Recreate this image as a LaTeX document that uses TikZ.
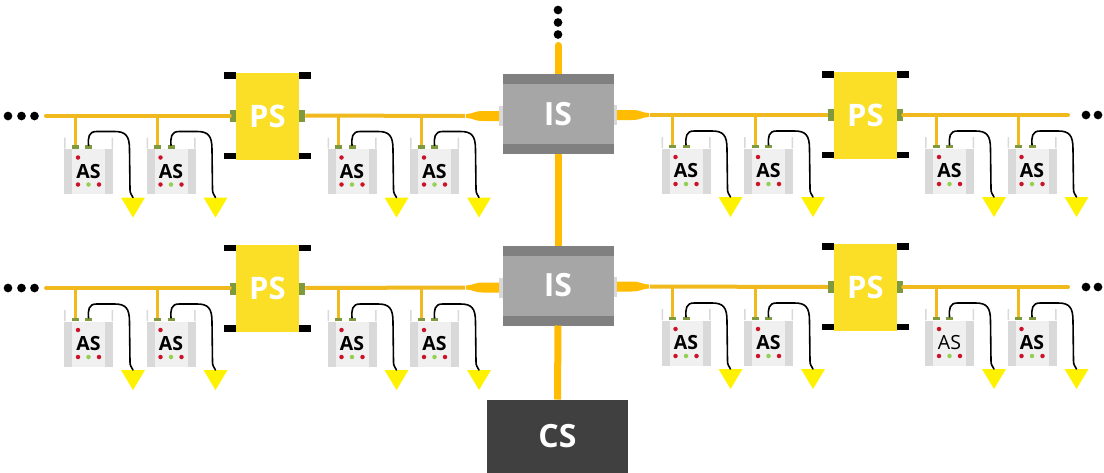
\documentclass[tikz,border=0pt]{standalone}
\usepackage{fontspec}
\setmainfont{Open Sans}
\definecolor{busc}{HTML}{F0BA1E}
\definecolor{trunkc}{HTML}{FFBC00}
\definecolor{psc}{HTML}{FADF26}
\definecolor{padc}{HTML}{7F9A3E}
\definecolor{wallc}{HTML}{D9D9D9}
\definecolor{innerc}{HTML}{F0F0F0}
\definecolor{ledr}{HTML}{CC1128}
\definecolor{ledg}{HTML}{92D050}
\definecolor{isc}{HTML}{A6A6A6}
\definecolor{isband}{HTML}{808080}
\definecolor{csc}{HTML}{404040}
\tikzset{
  box/.style={rectangle,inner sep=0pt,outer sep=0pt,draw=none},
  busline/.style={draw=busc,line width=4pt},
  tapline/.style={draw=busc,line width=3pt},
  trunk/.style={draw=trunkc,line width=7pt},
  cable/.style={draw=black,line width=1.6pt,line cap=round},
  dotk/.style={circle,fill=black,minimum size=8.7pt,inner sep=0pt,outer sep=0pt},
  led/.style={circle,minimum size=4.5pt,inner sep=0pt,outer sep=0pt},
  padn/.style={box,fill=padc},
  tabk/.style={box,fill=black,minimum width=12.5pt,minimum height=6.5pt},
  pslabel/.style={text=white,font=\fontsize{31}{31}\selectfont\bfseries},
  islabel/.style={text=white,font=\fontsize{32}{32}\selectfont\bfseries},
  aslabel/.style={text=black,font=\fontsize{19.5}{19.5}\selectfont},
}
% name, x, y (centre of the AS text), font weight
\newcommand{\asunit}[4]{%
\begin{scope}[shift={(#2,#3)}]
  \fill[wallc] (-24.5,-34) rectangle (-23,-23) (23,-34) rectangle (24.5,-23);
  \node[box,fill=wallc,minimum width=49pt,minimum height=45pt] (#1w) at (0,0) {};
  \node[box,fill=innerc,minimum width=33pt,minimum height=45pt] (#1i) at (0,0) {};
  \node[padn,minimum width=7pt,minimum height=3.5pt] (#1p) at (-13.5,-24.5) {};
  \node[padn,minimum width=7pt,minimum height=3.5pt] (#1q) at (0,-24.5) {};
  \coordinate (#1t) at (-13.5,-56);
  \draw[tapline] (#1t) -- (#1p.north);
  \node[led,fill=ledr] (#1a) at (-10.5,-14) {};
  \node[led,fill=ledr] (#1b) at (-10.5,13) {};
  \node[led,fill=ledg] (#1c) at (0,13) {};
  \node[led,fill=ledr] (#1d) at (10.5,13) {};
  \node[aslabel,inner sep=0pt] (#1l) at (0,0) {#4{}AS};
  \coordinate (#1v) at (44.5,26);
  \fill[yellow] (32.5,26) -- (56.5,26) -- (44.5,46) -- cycle;
  \draw[cable] (#1q.north) .. controls (-0.5,-34) and (0,-40) .. (8,-40)
     -- (26,-40) .. controls (37,-40) and (41,-36) .. (41,-22)
     -- (41.5,18) .. controls (41.5,22) and (43,23) .. (#1v);
\end{scope}}
% name, x, y
\newcommand{\psunit}[3]{%
\begin{scope}[shift={(#2,#3)}]
  \node[tabk] (#1a) at (-37.5,-40.5) {};
  \node[tabk] (#1b) at (37.5,-40.5) {};
  \node[tabk] (#1c) at (-37.5,40) {};
  \node[tabk] (#1d) at (37.5,40) {};
  \node[box,fill=psc,minimum width=63pt,minimum height=87pt,pslabel] (#1) at (0,0) {PS};
  \node[padn,minimum width=6.5pt,minimum height=12pt] (#1w) at (-34.5,0) {};
  \node[padn,minimum width=6.5pt,minimum height=12pt] (#1e) at (34.5,0) {};
\end{scope}}
% name, y centre
\newcommand{\isunit}[2]{%
\begin{scope}[shift={(558,#2)}]
  \node[box,fill=wallc,minimum width=3.5pt,minimum height=20pt] (#1tw) at (-57,2) {};
  \node[box,fill=wallc,minimum width=3.5pt,minimum height=20pt] (#1te) at (57,1) {};
  \node[box,fill=isc,minimum width=111pt,minimum height=80pt] (#1) at (0,0) {};
  \node[box,fill=isband,minimum width=111pt,minimum height=10pt] (#1u) at (0,-35) {};
  \node[box,fill=isband,minimum width=111pt,minimum height=10pt] (#1o) at (0,35) {};
  \node[islabel,inner sep=0pt] (#1l) at (0,0) {IS};
  \coordinate (#1lt) at (-93,2);
  \coordinate (#1rt) at (92,1);
  \fill[trunkc] (-92,0) .. controls (-85,0) and (-84,-3) .. (-75,-3) -- (-58.8,-3) -- (-58.8,7)
     -- (-75,7) .. controls (-84,7) and (-85,4) .. (-92,4) -- cycle;
  \fill[trunkc] (91,-1) .. controls (84,-1) and (83,-4) .. (74,-4) -- (58.8,-4) -- (58.8,6)
     -- (74,6) .. controls (83,6) and (84,3) .. (91,3) -- cycle;
\end{scope}}
\begin{document}
\begin{tikzpicture}[x=1pt,y=-1pt]
\useasboundingbox (0,0) rectangle (1104,472);
\fill[white] (0,0) rectangle (1104,472);
% end points and buses go under the boxes
\coordinate (la) at (46,115.5);
\coordinate (lb) at (46,288);
\coordinate (ra) at (1068,115);
\coordinate (rb) at (1068,287);
% trunk
\coordinate (top) at (558,45.5);
\node[box,fill=csc,minimum width=141pt,minimum height=73pt,text=white,font=\fontsize{32}{32}\selectfont\bfseries] (cs) at (557.5,436) {CS};
\draw[trunk,line cap=round] (top) -- (558,74);
\isunit{isa}{114}
\isunit{isb}{285.5}
\draw[trunk] (isa.south) -- (isb.north);
\draw[trunk] (isb.south) -- (cs.north);
% power supplies
\psunit{pa}{267.5}{116}
\psunit{pb}{267.5}{288.5}
\psunit{pc}{865.5}{115}
\psunit{pd}{865.5}{287}
% buses
\draw[busline,line cap=round] (la) -- (paw.west |- la);
\draw[busline,line cap=round] (lb) -- (pbw.west |- lb);
\draw[busline] (pae.east |- la) -- (isalt);
\draw[busline] (pbe.east |- lb) -- (isblt);
\draw[busline] (isart) -- (pcw.west |- ra);
\draw[busline] (isbrt) -- (pdw.west |- rb);
\draw[busline,line cap=round] (pce.east |- ra) -- (ra);
\draw[busline,line cap=round] (pde.east |- rb) -- (rb);
% AS units
\asunit{a1}{88.5}{171.5}{\bfseries}
\asunit{a2}{171}{171.5}{\bfseries}
\asunit{a3}{352}{171.5}{\bfseries}
\asunit{a4}{434.5}{171.5}{\bfseries}
\asunit{a5}{686}{171}{\bfseries}
\asunit{a6}{768.5}{171}{\bfseries}
\asunit{a7}{949.5}{171}{\bfseries}
\asunit{a8}{1032}{171}{\bfseries}
\asunit{b1}{88.5}{344}{\bfseries}
\asunit{b2}{171}{344}{\bfseries}
\asunit{b3}{352}{344}{\bfseries}
\asunit{b4}{434.5}{344}{\bfseries}
\asunit{b5}{686}{343}{\bfseries}
\asunit{b6}{768.5}{343}{\bfseries}
\asunit{b7}{949.5}{343}{}
\asunit{b8}{1032}{343}{\bfseries}
% dots
\foreach \n/\x/\y in {d1/8/116,d2/21.5/116,d3/34.5/116,d4/8/288,d5/21.5/288,d6/34.5/288,
  d7/1086/115,d8/1098/115,d9/1086/287,d10/1098/287,d11/558/10,d12/558/22.5,d13/558/34.5}
  \node[dotk] (\n) at (\x,\y) {};
\end{tikzpicture}
\end{document}
